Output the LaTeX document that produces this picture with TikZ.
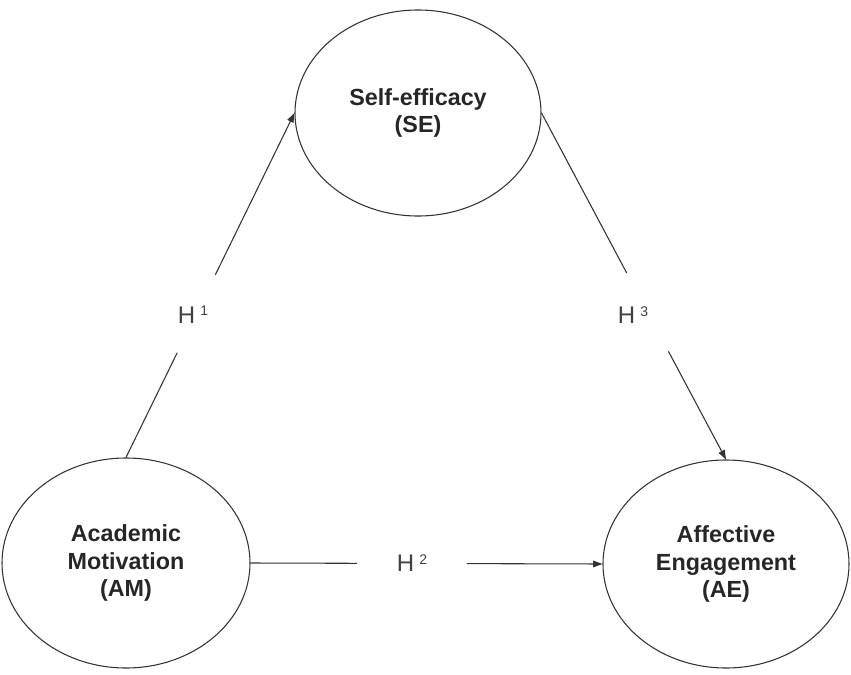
\documentclass[tikz,border=0pt]{standalone}
\usepackage{fontspec}
\setmainfont{Liberation Sans}
\usetikzlibrary{arrows.meta,calc,shapes.geometric}
\newcommand{\hyp}[1]{H\hspace{0.22em}\raisebox{5.8pt}{\fontsize{10.5}{10.5}\selectfont #1}}
\begin{document}
\begin{tikzpicture}[x=0.75pt,y=-0.75pt,
  construct/.style={ellipse, draw=black!80, line width=0.8pt, inner sep=0pt,
    align=center, font=\fontsize{17.5}{20.5}\selectfont\bfseries, text=black!85},
  hlabel/.style={font=\fontsize{18}{20}\selectfont, text=black!75, inner sep=0pt},
  link/.style={draw=black!80, line width=0.8pt},
  arrowlink/.style={link, -{Triangle[length=7pt,width=5pt]}}]
\useasboundingbox (0,0) rectangle (851,675);

\node[construct, minimum width=184.5pt, minimum height=154.5pt] (SE) at (418,113) {Self-efficacy\\(SE)};
\node[construct, minimum width=186pt, minimum height=157.5pt] (AM) at (126,563) {Academic\\Motivation\\(AM)};
\node[construct, minimum width=184.5pt, minimum height=156pt] (AE) at (726,564) {Affective\\Engagement\\(AE)};

\node[hlabel] (H1) at (193,315) {\hyp{1}};
\node[hlabel] (H2) at (412,563) {\hyp{2}};
\node[hlabel] (H3) at (633,315) {\hyp{3}};

% H1
\draw[link] (AM.north) -- ($(AM.north)!0.304!(SE.west)$);
\draw[arrowlink] ($(AM.north)!0.530!(SE.west)$) -- (SE.west);
% H2
\draw[link] (AM.east) -- ($(AM.east)!0.303!(AE.west)$);
\draw[arrowlink] ($(AM.east)!0.615!(AE.west)$) -- (AE.west);
% H3
\draw[link] (SE.east) -- ($(SE.east)!0.462!(AE.north)$);
\draw[arrowlink] ($(SE.east)!0.688!(AE.north)$) -- (AE.north);
\end{tikzpicture}
\end{document}
